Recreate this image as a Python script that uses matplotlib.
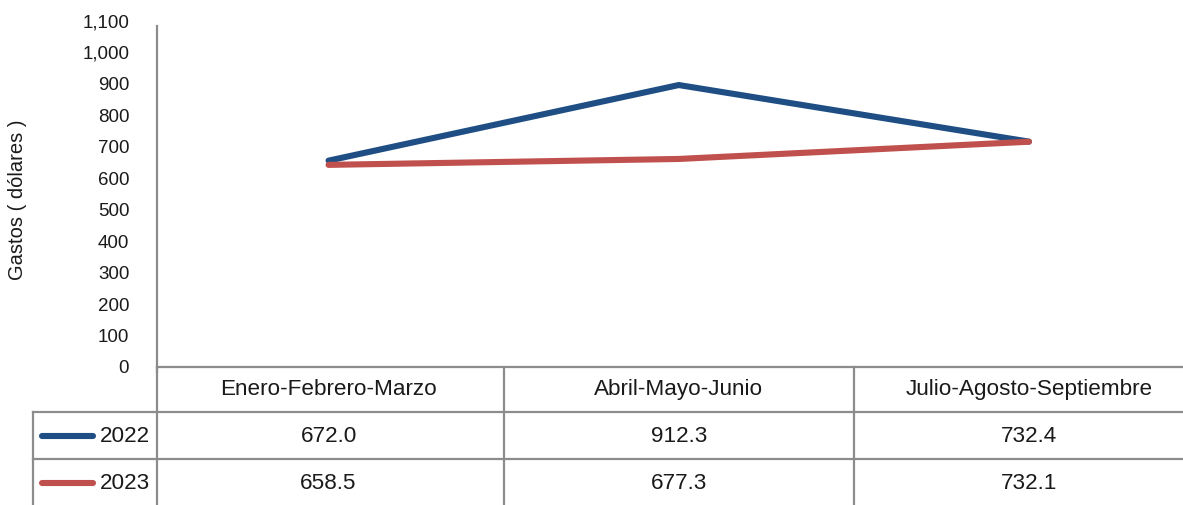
import matplotlib.pyplot as plt
from matplotlib.lines import Line2D
from matplotlib.transforms import blended_transform_factory, ScaledTranslation

plt.rcParams['font.family'] = ['Liberation Sans', 'DejaVu Sans']

categories = ["Enero-Febrero-Marzo", "Abril-Mayo-Junio", "Julio-Agosto-Septiembre"]
series_names = ["2022", "2023"]
values_2022 = [672.0, 912.3, 732.4]
values_2023 = [658.5, 677.3, 732.1]
yticks = list(range(0, 1101, 100))

colors = ["#1f4e84", "#c0504d"]
grid_col = "#8c8c8c"
txt_col = "#1a1a1a"

W, H = 1183, 506
fig = plt.figure(figsize=(W / 100, H / 100), dpi=100)
ax = fig.add_axes([157 / W, 1 - 373 / H, (W - 157) / W, (373 - 27) / H])

x = list(range(len(categories)))
for vals, c in zip([values_2022, values_2023], colors):
    ax.plot(x, vals, color=c, lw=4.4, solid_capstyle="round", solid_joinstyle="miter")

ax.set_xlim(-0.49, 2.44)
ax.set_ylim(0, 1100)
ax.set_yticks(yticks)
ax.set_yticklabels([f"{v:,}" for v in yticks], fontsize=13.5, color=txt_col)
ax.tick_params(axis="y", length=0, pad=20)
# tick labels sit a little above their ticks in the original
shift = ScaledTranslation(0, 6 / 100, fig.dpi_scale_trans)
for lab in ax.get_yticklabels():
    lab.set_transform(lab.get_transform() + shift)
ax.set_xticks([])
for s in ["top", "right", "bottom"]:
    ax.spines[s].set_visible(False)
ax.spines["left"].set_color(grid_col)
ax.spines["left"].set_linewidth(1.6)

fig.text(18 / W, 1 - 200 / H, "Gastos ( dólares )", rotation=90, fontsize=14.5,
         ha="center", va="center", color=txt_col)

# data table under the chart
def fy(py):
    return 1 - py / H

def fx(px):
    return px / W

lw = 1.6
tr = blended_transform_factory(ax.transData, fig.transFigure)
# horizontal rules
fig.add_artist(Line2D([fx(157), 1], [fy(368), fy(368)], color=grid_col, lw=lw))
fig.add_artist(Line2D([fx(33), 1], [fy(413), fy(413)], color=grid_col, lw=lw))
fig.add_artist(Line2D([fx(33), 1], [fy(460), fy(460)], color=grid_col, lw=lw))
# vertical rules
fig.add_artist(Line2D([fx(157), fx(157)], [fy(368), 0], color=grid_col, lw=lw))
fig.add_artist(Line2D([fx(33), fx(33)], [fy(413), 0], color=grid_col, lw=lw))
for b in [0.5, 1.5]:
    fig.add_artist(Line2D([b, b], [fy(368), 0], color=grid_col, lw=lw, transform=tr))

for i, cat in enumerate(categories):
    fig.text(i, fy(390), cat, transform=tr, ha="center", va="center", fontsize=16.2, color=txt_col)

row_y = [437, 484]
for name, vals, c, ry in zip(series_names, [values_2022, values_2023], colors, row_y):
    fig.add_artist(Line2D([fx(42), fx(93)], [fy(ry), fy(ry)], color=c, lw=4.4,
                          solid_capstyle="round"))
    fig.text(fx(150), fy(ry), name, ha="right", va="center", fontsize=16.2, color=txt_col)
    for i, v in enumerate(vals):
        fig.text(i, fy(ry), f"{v:.1f}", transform=tr, ha="center", va="center",
                 fontsize=16.2, color=txt_col)

fig.savefig("out.png", dpi=100)
plt.close(fig)
